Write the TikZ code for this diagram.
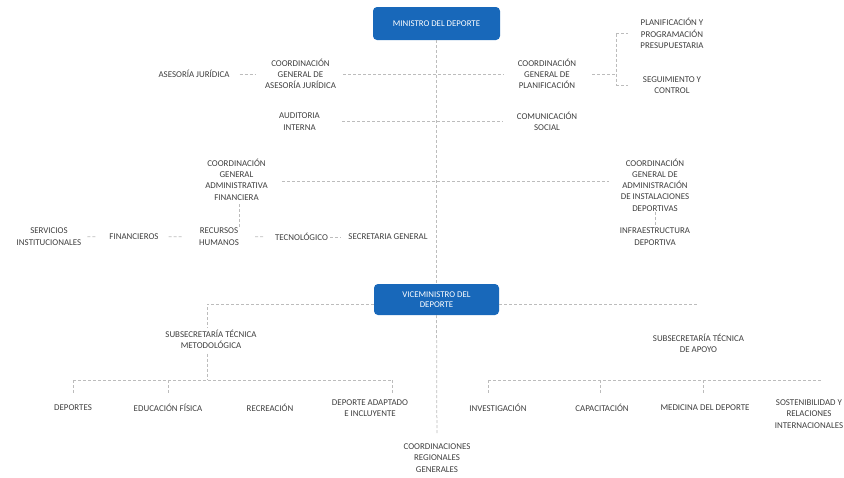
\documentclass[tikz,border=0pt]{standalone}
\usepackage{fontspec}
\setmainfont{Carlito}
\definecolor{boxblue}{RGB}{24,104,186}
\definecolor{ink}{RGB}{62,62,62}
\definecolor{rule}{RGB}{188,188,188}

\begin{document}
\begin{tikzpicture}[x=1pt,y=-1pt,
  lbl/.style={align=center, inner sep=0pt, text=ink, font=\fontsize{8.9}{11.3}\selectfont},
  head/.style={fill=boxblue, rounded corners=4pt, text=white, align=center,
               inner sep=0pt, font=\fontsize{8.8}{10.6}\selectfont},
  link/.style={draw=rule, line width=0.75pt, dash pattern=on 3pt off 2pt},
]
\useasboundingbox (0,0) rectangle (844,477);

% --- top level ---
\node[head, minimum width=127pt, minimum height=33pt] (min) at (436.5,23.5) {MINISTRO DEL DEPORTE};
\node[head, minimum width=125pt, minimum height=31pt] (vice) at (436.5,299.5) {VICEMINISTRO DEL\\DEPORTE};
\node[lbl] (reg) at (437,458) {COORDINACIONES\\REGIONALES\\GENERALES};

% --- advisory and planning units ---
\node[lbl] (aj)   at (194,74)    {ASESORÍA JURÍDICA};
\node[lbl] (cgaj) at (300.5,74)  {COORDINACIÓN\\GENERAL DE\\ASESORÍA JURÍDICA};
\node[lbl] (cgp)  at (547,74)    {COORDINACIÓN\\GENERAL DE\\PLANIFICACIÓN};
\node[lbl] (ppp)  at (672,33.5)  {PLANIFICACIÓN Y\\PROGRAMACIÓN\\PRESUPUESTARIA};
\node[lbl] (syc)  at (672,85)    {SEGUIMIENTO Y\\CONTROL};
\node[lbl] (ai)   at (299.5,121.5) {AUDITORIA\\INTERNA};
\node[lbl] (cs)   at (547,121.5) {COMUNICACIÓN\\SOCIAL};

% --- administrative units ---
\node[lbl] (cgaf) at (236.5,179.5) {COORDINACIÓN\\GENERAL\\ADMINISTRATIVA\\FINANCIERA};
\node[lbl] (cgai) at (655,185)     {COORDINACIÓN\\GENERAL DE\\ADMINISTRACIÓN\\DE INSTALACIONES\\DEPORTIVAS};
\node[lbl] (ide)  at (655,236.5)   {INFRAESTRUCTURA\\DEPORTIVA};
\node[lbl] (si)   at (49,236.5)    {SERVICIOS\\INSTITUCIONALES};
\node[lbl] (fin)  at (134,237)     {FINANCIEROS};
\node[lbl] (rh)   at (219,236.5)   {RECURSOS\\HUMANOS};
\node[lbl] (tec)  at (301.5,237)   {TECNOLÓGICO};
\node[lbl] (sg)   at (388,237)     {SECRETARIA GENERAL};

% --- technical undersecretariats ---
\node[lbl] (stm) at (211,339)   {SUBSECRETARÍA TÉCNICA\\METODOLÓGICA};
\node[lbl] (sta) at (698.5,343.5) {SUBSECRETARÍA TÉCNICA\\DE APOYO};
\node[lbl] (dep) at (73,408)    {DEPORTES};
\node[lbl] (ef)  at (168,408)   {EDUCACIÓN FÍSICA};
\node[lbl] (rec) at (270,408)   {RECREACIÓN};
\node[lbl] (dai) at (370,408)   {DEPORTE ADAPTADO\\E INCLUYENTE};
\node[lbl] (inv) at (498,408)   {INVESTIGACIÓN};
\node[lbl] (cap) at (602,408)   {CAPACITACIÓN};
\node[lbl] (med) at (705,408)   {MEDICINA DEL DEPORTE};
\node[lbl] (sos) at (809,414)   {SOSTENIBILIDAD Y\\RELACIONES\\INTERNACIONALES};

% --- junction points ---
\coordinate (pj)  at (616,74);
\coordinate (vl)  at ([yshift=-4.5pt]vice.west);
\coordinate (vr)  at ([yshift=-4.5pt]vice.east);
\coordinate (sj)  at (207,304);
\coordinate (lb)  at (207,380);
\coordinate (lb1) at (73,380);
\coordinate (lb2) at (168,380);
\coordinate (lb3) at (392,380);
\coordinate (rb1) at (488,380);
\coordinate (rb2) at (600,380);
\coordinate (rb3) at (703,380);
\coordinate (rb4) at (822,380);

% --- main spine ---
\draw[link] (min) -- (vice);
\draw[link, shorten >=10pt] (vice) -- (reg);

% --- upper branches ---
\draw[link, shorten <=10pt, shorten >=10pt] (aj) -- (cgaj);
\draw[link, shorten <=7pt, shorten >=14pt] (cgaj) -- (cgp);
\draw[link, shorten <=16pt] (cgp) -- (pj);
\draw[link] (pj |- ppp) -- (pj |- syc);
\draw[link, shorten >=12pt] (pj |- ppp) -- (ppp.west);
\draw[link, shorten >=15pt] (pj |- syc) -- (syc.west);
\draw[link, shorten <=22pt, shorten >=14pt] (ai) -- (cs);

% --- administrative branches ---
\coordinate (af) at ([yshift=-1.5pt]cgaf.east);
\draw[link, shorten <=14pt, shorten >=12pt] (af) -- (af -| cgai.west);
\coordinate (afs) at ([xshift=3pt]cgaf.south);
\draw[link, shorten <=4pt] (afs) -- (afs |- rh.north);
\draw[link] (cgai) -- (ide);
\draw[link, shorten <=6pt, shorten >=13pt] (si) -- (fin);
\draw[link, shorten <=10pt, shorten >=16pt] (fin) -- (rh);
\draw[link, shorten <=16pt, shorten >=10pt] (rh) -- (tec);
\draw[link, shorten <=2pt, shorten >=8pt] (tec) -- (sg);

% --- undersecretariat branches ---
\draw[link, shorten >=2pt] (vl) -- (sj) -- (sj |- stm.north);
\draw[link] (vr) -- (vr -| sta.north);
\draw[link, shorten <=5pt] (sj |- stm.south) -- (lb);
\draw[link] (lb1) -- (lb3);
\draw[link, shorten >=10pt] (lb1) -- (lb1 |- dep.north);
\draw[link, shorten >=10pt] (lb2) -- (lb2 |- ef.north);
\draw[link, shorten >=6pt]  (lb3) -- (lb3 |- dai.north);
\draw[link] (rb1) -- (rb4);
\draw[link, shorten >=10pt] (rb1) -- (rb1 |- inv.north);
\draw[link, shorten >=10pt] (rb2) -- (rb2 |- cap.north);
\draw[link, shorten >=10pt] (rb3) -- (rb3 |- med.north);
\end{tikzpicture}
\end{document}
